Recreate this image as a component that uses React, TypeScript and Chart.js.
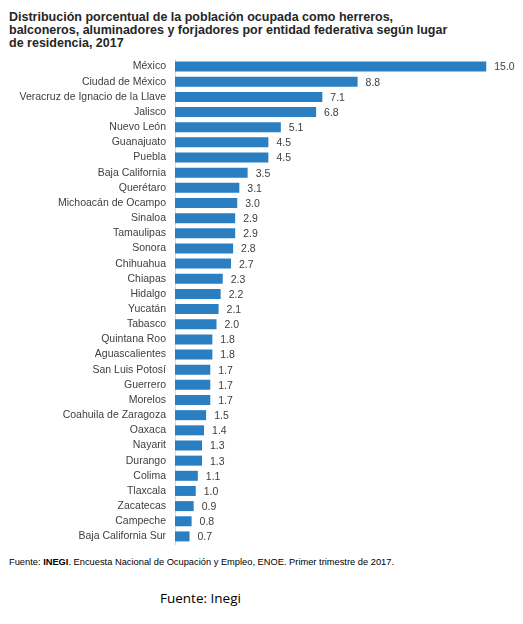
import React, { useEffect, useRef } from "react";
import { Chart, registerables } from "chart.js";

Chart.register(...registerables);

const categories: string[] = [
  "México",
  "Ciudad de México",
  "Veracruz de Ignacio de la Llave",
  "Jalisco",
  "Nuevo León",
  "Guanajuato",
  "Puebla",
  "Baja California",
  "Querétaro",
  "Michoacán de Ocampo",
  "Sinaloa",
  "Tamaulipas",
  "Sonora",
  "Chihuahua",
  "Chiapas",
  "Hidalgo",
  "Yucatán",
  "Tabasco",
  "Quintana Roo",
  "Aguascalientes",
  "San Luis Potosí",
  "Guerrero",
  "Morelos",
  "Coahuila de Zaragoza",
  "Oaxaca",
  "Nayarit",
  "Durango",
  "Colima",
  "Tlaxcala",
  "Zacatecas",
  "Campeche",
  "Baja California Sur",
];

const values: number[] = [
  15.0, 8.8, 7.1, 6.8, 5.1, 4.5, 4.5, 3.5, 3.1, 3.0, 2.9, 2.9, 2.8, 2.7, 2.3,
  2.2, 2.1, 2.0, 1.8, 1.8, 1.7, 1.7, 1.7, 1.5, 1.4, 1.3, 1.3, 1.1, 1.0, 0.9,
  0.8, 0.7,
];

const titleLines: string[] = [
  "Distribución porcentual de la población ocupada como herreros,",
  "balconeros, aluminadores y forjadores por entidad federativa según lugar",
  "de residencia, 2017",
];

const FONT = "'Liberation Sans', Arial, sans-serif";

const valueLabels = {
  id: "valueLabels",
  afterDatasetsDraw(chart: any) {
    const ctx = chart.ctx;
    const meta = chart.getDatasetMeta(0);
    ctx.save();
    ctx.font = `10.5px ${FONT}`;
    ctx.fillStyle = "#404040";
    ctx.textAlign = "left";
    ctx.textBaseline = "middle";
    meta.data.forEach((bar: any, i: number) => {
      const v = chart.data.datasets[0].data[i] as number;
      ctx.fillText(v.toFixed(1), bar.x + 8, bar.y + 1);
    });
    ctx.restore();
  },
};

export default function App() {
  const ref = useRef<HTMLCanvasElement | null>(null);

  useEffect(() => {
    if (!ref.current) return;
    const chart = new Chart(ref.current, {
      type: "bar",
      data: {
        labels: categories,
        datasets: [
          {
            data: values,
            backgroundColor: "#2a7fc3",
            borderWidth: 0,
            categoryPercentage: 1,
            barPercentage: 0.66,
          },
        ],
      },
      options: {
        indexAxis: "y",
        responsive: false,
        maintainAspectRatio: false,
        animation: false,
        layout: { padding: { top: 8, bottom: 7, right: 16, left: 0 } },
        plugins: {
          legend: { display: false },
          tooltip: { enabled: false },
          title: { display: false },
        },
        scales: {
          x: {
            display: false,
            min: 0,
            max: 16,
          },
          y: {
            afterFit: (scale: any) => {
              scale.width = 175;
              scale.paddingTop = 0;
              scale.paddingBottom = 0;
            },
            grid: { display: false, drawTicks: false },
            border: { display: true, color: "#d9d9d9", width: 1 },
            ticks: {
              padding: 9,
              color: "#404040",
              font: { family: FONT, size: 10.5 },
              autoSkip: false,
            },
          },
        },
      },
      plugins: [valueLabels],
    });
    return () => chart.destroy();
  }, []);

  return (
    <div
      style={{
        position: "absolute",
        left: 0,
        top: 0,
        width: 523,
        height: 624,
        background: "#ffffff",
        overflow: "hidden",
      }}
    >
      <div
        style={{
          position: "absolute",
          left: 9,
          top: 11,
          fontFamily: FONT,
          fontWeight: "bold",
          fontSize: 12.5,
          lineHeight: "13px",
          color: "#262626",
          whiteSpace: "nowrap",
        }}
      >
        {titleLines.map((l, i) => (
          <div key={i}>{l}</div>
        ))}
      </div>
      <canvas
        ref={ref}
        width={523}
        height={500}
        style={{ position: "absolute", left: 0, top: 51, width: 523, height: 500 }}
      />
      <div
        style={{
          position: "absolute",
          left: 9,
          top: 557,
          fontFamily: FONT,
          fontSize: 9.3,
          color: "#000000",
          whiteSpace: "nowrap",
        }}
      >
        Fuente: <b>INEGI</b>. Encuesta Nacional de Ocupación y Empleo, ENOE. Primer trimestre de 2017.
      </div>
      <div
        style={{
          position: "absolute",
          left: 160,
          top: 589,
          fontFamily: "'Open Sans', 'Noto Sans', sans-serif",
          fontSize: 13.5,
          color: "#000000",
          whiteSpace: "nowrap",
        }}
      >
        Fuente: Inegi
      </div>
    </div>
  );
}
